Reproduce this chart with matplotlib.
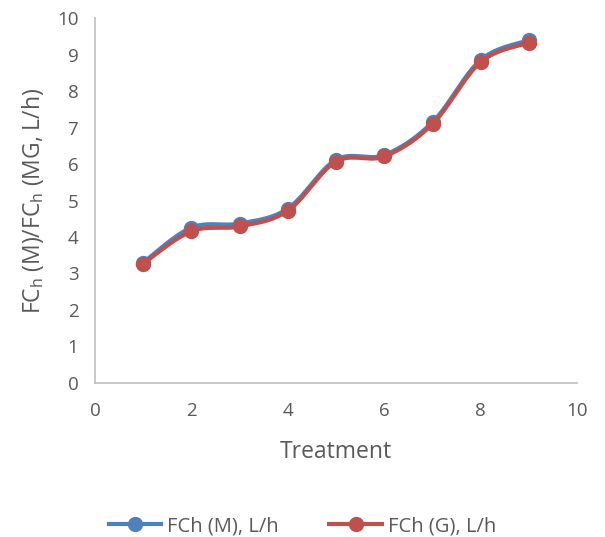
import numpy as np
import matplotlib.pyplot as plt
from matplotlib.lines import Line2D

treatment = [1, 2, 3, 4, 5, 6, 7, 8, 9]
fch_m = [3.30, 4.26, 4.37, 4.78, 6.12, 6.25, 7.15, 8.86, 9.40]
fch_g = [3.27, 4.16, 4.29, 4.72, 6.07, 6.21, 7.10, 8.80, 9.33]

plt.rcParams['font.family'] = ['Open Sans', 'DejaVu Sans']
grey = '#595959'


def smooth(xs, ys, n=40):
    # Excel-style smoothed line: cubic Bezier with Catmull-Rom control points
    p = np.c_[xs, ys].astype(float)
    p = np.vstack([p[0], p, p[-1]])
    out = []
    t = np.linspace(0, 1, n)[:, None]
    for i in range(1, len(p) - 2):
        p0, p1, p2, p3 = p[i], p[i + 1], p[i - 1], p[i + 2]
        c1 = p0 + (p1 - p2) / 6
        c2 = p1 - (p3 - p0) / 6
        seg = ((1 - t) ** 3) * p0 + 3 * ((1 - t) ** 2) * t * c1 \
            + 3 * (1 - t) * t ** 2 * c2 + t ** 3 * p1
        out.append(seg)
    out = np.vstack(out)
    return out[:, 0], out[:, 1]


fig = plt.figure(figsize=(6.05, 5.37), dpi=100)
ax = fig.add_axes([0.157, 0.287, 0.797, 0.679])

series = [(fch_m, '#4f81bd', 'FCh (M), L/h'), (fch_g, '#c0504d', 'FCh (G), L/h')]
handles = []
for ys, col, lab in series:
    sx, sy = smooth(treatment, ys)
    ax.plot(sx, sy, color=col, lw=3, solid_capstyle='round')
    ax.plot(treatment, ys, 'o', color=col, ms=10, mec=col)
    handles.append(Line2D([], [], color=col, lw=3, marker='o', ms=10, label=lab))

ax.set_xlim(0, 10)
ax.set_ylim(0, 10)
ax.set_xticks(range(0, 11, 2))
ax.set_yticks(range(0, 11))
for s in ['top', 'right']:
    ax.spines[s].set_visible(False)
for s in ['left', 'bottom']:
    ax.spines[s].set_color('#bfbfbf')
    ax.spines[s].set_linewidth(1.2)
ax.tick_params(length=0, labelsize=13.5, labelcolor=grey)
ax.tick_params(axis='x', pad=14)
ax.tick_params(axis='y', pad=12)
ax.set_xlabel('Treatment', fontsize=16.5, color=grey, labelpad=14)
ax.set_ylabel(r'FC$\mathregular{_h}$ (M)/FC$\mathregular{_h}$ (MG, L/h)',
              fontsize=16.5, color=grey, labelpad=8)

fig.legend(handles=handles, loc='lower center', ncol=2, frameon=False,
           bbox_to_anchor=(0.5, -0.032), fontsize=14.5, labelcolor=grey,
           handlelength=2.6, handletextpad=0.3, columnspacing=2.5)

fig.savefig('out.png', dpi=100)
